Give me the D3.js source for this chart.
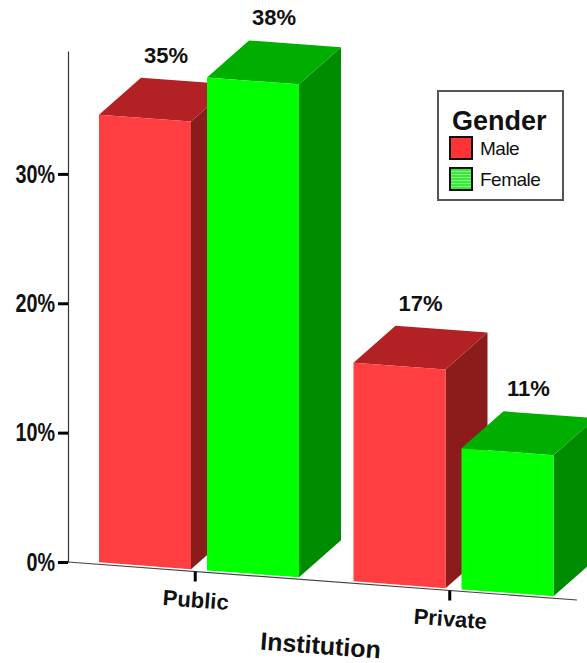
<!DOCTYPE html>
<html>
<head>
<meta charset="utf-8">
<script src="https://cdn.jsdelivr.net/npm/d3@7"></script>
<style>
  body { margin: 0; background: #fff; }
  svg { display: block; font-family: "Liberation Sans", Arial, sans-serif; }
</style>
</head>
<body>
<svg id="chart" width="587" height="663"></svg>
<script>
// data
const categories = ["Public", "Private"];
const genders = ["Male", "Female"];
const maleValues = [34.6, 16.9];
const femaleValues = [38.1, 10.9];
const yTicks = [0, 10, 20, 30];
const xTitle = "Institution";
const legendTitle = "Gender";

const width = 587, height = 663;
const axisX = 68;
const slope = Math.tan(4.27 * Math.PI / 180);
const depthX = 42, depthY = -37, lift = 2;

const colors = {
  Male:   { front: "#ff3e41", top: "#b22224", side: "#8c1c1c", swatch: "#ff3333" },
  Female: { front: "#00ff00", top: "#00ae00", side: "#008c00", swatch: "#44ee44" }
};

const svg = d3.select("#chart");

// scales
const y = d3.scaleLinear().domain([0, 39.5]).range([562, 51]);
const x0 = d3.scaleBand().domain(categories).range([0, 509]);
const x1 = d3.scaleBand().domain(genders).range([31, 231]).paddingInner(0.148);

// skewed floor: x relative to the y axis, y sinks as x grows
function pt(xr, yy) { return [axisX + xr, yy + slope * xr]; }
function dep(p, k = 1) { return [p[0] + depthX * k, p[1] + depthY * k]; }

// y axis
const yAxis = svg.append("g")
  .attr("transform", `translate(${axisX},0)`)
  .call(d3.axisLeft(y).tickValues(yTicks).tickSize(10).tickSizeOuter(0).tickFormat(d => d + "%"));
yAxis.select(".domain").attr("stroke", "#333").attr("stroke-width", 1.2);
yAxis.selectAll(".tick line").attr("stroke", "#000").attr("stroke-width", 3);
yAxis.selectAll(".tick text")
  .attr("font-size", 26).attr("font-weight", "bold").attr("fill", "#111")
  .attr("font-family", "'Liberation Sans', Arial, sans-serif")
  .attr("transform", "scale(0.76,1)")
  .attr("x", -13 / 0.76);

// x axis (floor line)
const b0 = pt(0, y(0)), b1 = pt(509, y(0));
svg.append("line")
  .attr("x1", b0[0]).attr("y1", b0[1]).attr("x2", b1[0]).attr("y2", b1[1])
  .attr("stroke", "#444").attr("stroke-width", 1.2);

categories.forEach(c => {
  const cx = x0(c) + x0.bandwidth() / 2;
  const t0 = pt(cx, y(0)), t1 = pt(cx, y(0) + 10);
  svg.append("line")
    .attr("x1", t0[0]).attr("y1", t0[1]).attr("x2", t1[0]).attr("y2", t1[1])
    .attr("stroke", "#000").attr("stroke-width", 3);
  const lp = pt(cx, y(0) + 36);
  svg.append("text")
    .attr("x", lp[0]).attr("y", lp[1])
    .attr("transform", `rotate(4.27,${lp[0]},${lp[1]})`)
    .attr("text-anchor", "middle")
    .attr("font-size", 22).attr("font-weight", "bold").attr("fill", "#111")
    .text(c);
});

// axis title
const tp = pt(252, 654 - slope * 252);
svg.append("text")
  .attr("x", tp[0]).attr("y", tp[1])
  .attr("transform", `rotate(4.27,${tp[0]},${tp[1]})`)
  .attr("text-anchor", "middle")
  .attr("font-size", 25).attr("font-weight", "bold").attr("fill", "#111")
  .text(xTitle);

// bars
const bars = [];
categories.forEach((c, i) => {
  genders.forEach(g => {
    bars.push({ cat: c, g: g, v: g === "Male" ? maleValues[i] : femaleValues[i] });
  });
});

const poly = pts => pts.map(p => p.join(",")).join(" ");

bars.forEach(d => {
  const xl = x0(d.cat) + x1(d.g);
  const xr = xl + x1.bandwidth();
  const yt = y(d.v) - lift, yb = y(0) - lift;
  const ftl = pt(xl, yt), ftr = pt(xr, yt), fbr = pt(xr, yb), fbl = pt(xl, yb);
  const g = svg.append("g");
  g.append("polygon").attr("points", poly([ftr, dep(ftr), dep(fbr), fbr])).attr("fill", colors[d.g].side);
  g.append("polygon").attr("points", poly([ftl, dep(ftl), dep(ftr), ftr])).attr("fill", colors[d.g].top);
  g.append("polygon").attr("points", poly([ftl, ftr, fbr, fbl])).attr("fill", colors[d.g].front);
});

// value labels above the middle of the top faces
bars.forEach(d => {
  const xc = x0(d.cat) + x1(d.g) + x1.bandwidth() / 2;
  const p = dep(pt(xc, y(d.v) - lift), 0.5);
  svg.append("text")
    .attr("x", p[0]).attr("y", p[1] - 37)
    .attr("text-anchor", "middle")
    .attr("font-size", 22).attr("font-weight", "bold").attr("fill", "#111")
    .text(Math.round(d.v) + "%");
});

// legend
const defs = svg.append("defs");
const pat = defs.append("pattern").attr("id", "stripes")
  .attr("patternUnits", "userSpaceOnUse").attr("width", 4).attr("height", 3);
pat.append("rect").attr("width", 4).attr("height", 3).attr("fill", "#3ee63e");
pat.append("rect").attr("width", 4).attr("height", 1).attr("fill", "#7cff7c");

const lg = svg.append("g").attr("transform", "translate(438,91)");
lg.append("rect").attr("width", 125).attr("height", 109)
  .attr("fill", "#fff").attr("stroke", "#555").attr("stroke-width", 2);
lg.append("text").attr("x", 14).attr("y", 39)
  .attr("font-size", 27).attr("font-weight", "bold").attr("fill", "#111")
  .text(legendTitle);
genders.forEach((g, i) => {
  const row = lg.append("g").attr("transform", `translate(12,${46 + i * 31})`);
  row.append("rect").attr("width", 22).attr("height", 22)
    .attr("fill", g === "Female" ? "url(#stripes)" : colors[g].swatch)
    .attr("stroke", "#111").attr("stroke-width", 2);
  row.append("text").attr("x", 30).attr("y", 18)
    .attr("font-size", 19).attr("fill", "#111").attr("letter-spacing", -0.5)
    .text(g);
});
</script>
</body>
</html>
